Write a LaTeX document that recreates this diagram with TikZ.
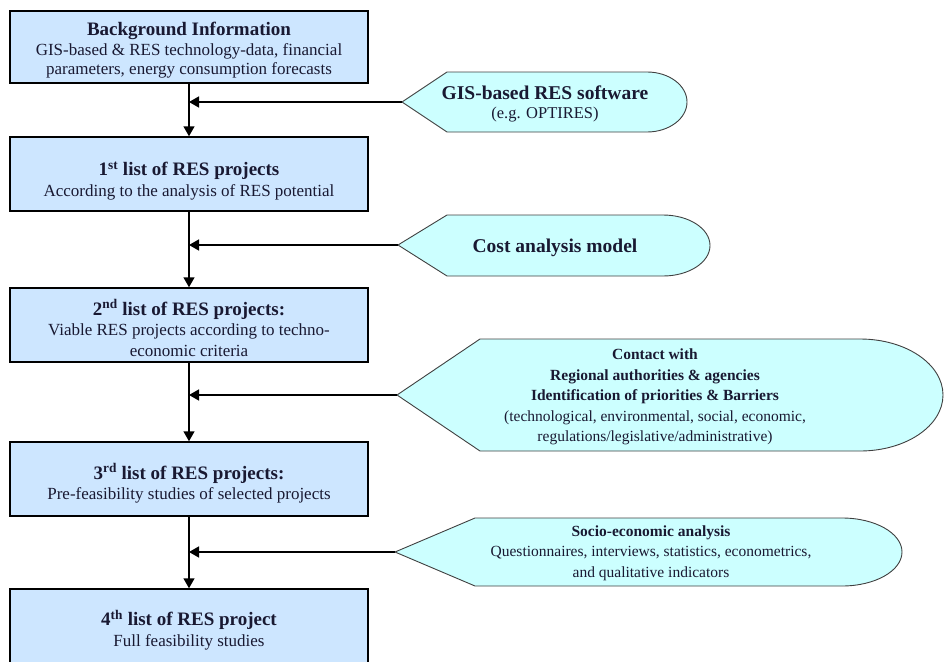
\documentclass[tikz,border=0pt]{standalone}
\usepackage{fontspec}
\setmainfont{Liberation Serif}
\usetikzlibrary{arrows.meta}
\definecolor{listblue}{RGB}{205,230,255}
\definecolor{dispcyan}{RGB}{204,255,255}
\definecolor{inktext}{RGB}{25,25,50}
\newcommand{\boxtitle}[1]{{\fontsize{19}{22}\selectfont\bfseries #1}}
\newcommand{\disptitle}[1]{{\fontsize{19.5}{22}\selectfont\bfseries #1}}
\tikzset{
  listbox/.style={draw=black, line width=1.5pt, fill=listblue, minimum width=358pt, inner sep=0pt},
  listtext/.style={align=center, inner sep=0pt, text=inktext, font=\fontsize{17}{20.5}\selectfont},
  displine/.style={draw=black!75, line width=0.9pt, fill=dispcyan},
  disptext/.style={align=center, inner sep=0pt, text=inktext, font=\fontsize{15.5}{20.5}\selectfont},
  flow/.style={line width=1.5pt, -{Triangle[length=10pt,width=11pt]}}
}
\begin{document}
\begin{tikzpicture}[x=1pt,y=-1pt]
\clip (0,0) rectangle (944,661);
% list boxes
\node[listbox, minimum height=72pt] (bginfo) at (189,47) {};
\node[listtext] (bginfoText) at (189,50) {\boxtitle{Background Information}\\GIS-based \& RES technology-data, financial\\[-1.5pt]parameters, energy consumption forecasts};
\node[listbox, minimum height=74pt] (list1) at (189,174) {};
\node[listtext] (list1Text) at (189,181) {\boxtitle{1\textsuperscript{st} list of RES projects}\\According to the analysis of RES potential};
\node[listbox, minimum height=74pt] (list2) at (189,325) {};
\node[listtext] (list2Text) at (189,328) {\boxtitle{2\textsuperscript{nd} list of RES projects:}\\Viable RES projects according to techno-\\economic criteria};
\node[listbox, minimum height=74pt] (list3) at (189,479) {};
\node[listtext] (list3Text) at (189,483.5) {\boxtitle{3\textsuperscript{rd} list of RES projects:}\\Pre-feasibility studies of selected projects};
\node[listbox, minimum height=76pt] (list4) at (189,627) {};
\node[listtext] (list4Text) at (189,630) {\boxtitle{4\textsuperscript{th} list of RES project}\\Full feasibility studies};
%
\draw[flow] (bginfo) -- (list1);
\draw[flow] (list1) -- (list2);
\draw[flow] (list2) -- (list3);
\draw[flow] (list3) -- (list4);
% tool shapes
\filldraw[displine] (402,102) -- (447,72) -- (647,72) arc[start angle=-90,end angle=90,x radius=40,y radius=30] -- (447,132) -- cycle;
\coordinate (gisTip) at (402,102);
\node[disptext] (gissw) at (545,104) {\disptitle{GIS-based RES software}\\[-1pt]{\fontsize{16.5}{20}\selectfont(e.g. OPTIRES)}};
%
\filldraw[displine] (398,245) -- (447,215) -- (663,215) arc[start angle=-90,end angle=90,x radius=47,y radius=30.5] -- (447,276) -- cycle;
\coordinate (costTip) at (398,245);
\node[disptext] (costmodel) at (555,248) {\disptitle{Cost analysis model}};
%
\filldraw[displine] (397,395) -- (480,339) -- (860,339) arc[start angle=-90,end angle=90,x radius=83,y radius=56] -- (480,451) -- cycle;
\coordinate (contactTip) at (397,395);
\node[disptext] (contact) at (655,397) {\textbf{Contact with}\\\textbf{Regional authorities \& agencies}\\\textbf{Identification of priorities \& Barriers}\\(technological, environmental, social, economic,\\regulations/legislative/administrative)};
%
\filldraw[displine] (395,552) -- (475,518) -- (842,518) arc[start angle=-90,end angle=90,x radius=60,y radius=34] -- (475,586) -- cycle;
\coordinate (socioTip) at (395,552);
\node[disptext] (socio) at (651,553) {\textbf{Socio-economic analysis}\\Questionnaires, interviews, statistics, econometrics,\\and qualitative indicators};
% inputs
\draw[flow] (gisTip) -- (gisTip -| bginfo.south);
\draw[flow] (costTip) -- (costTip -| list1.south);
\draw[flow] (contactTip) -- (contactTip -| list2.south);
\draw[flow] (socioTip) -- (socioTip -| list3.south);
\end{tikzpicture}
\end{document}
